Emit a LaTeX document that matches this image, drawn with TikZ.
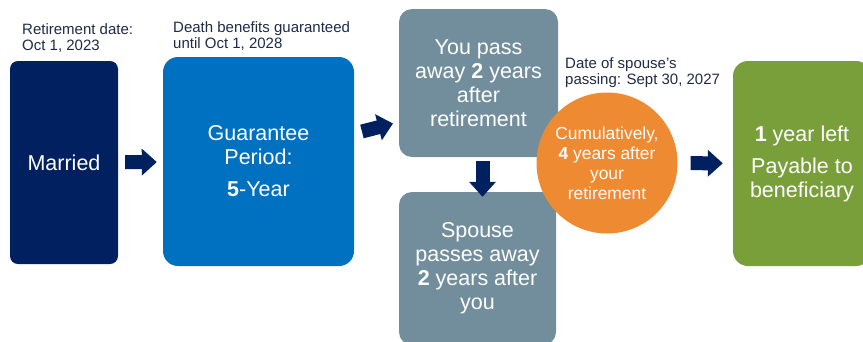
\documentclass[tikz,border=0pt]{standalone}
\usepackage{fontspec}
\setmainfont{Liberation Sans}
\usetikzlibrary{arrows.meta,positioning}

\definecolor{navy}{HTML}{002060}
\definecolor{guarblue}{HTML}{0070C0}
\definecolor{slate}{HTML}{728E9C}
\definecolor{tangerine}{HTML}{EE8A32}
\definecolor{olive}{HTML}{799F3A}
\definecolor{notetext}{HTML}{1F2A44}

\tikzset{
  box/.style={rounded corners=13pt, text=white, align=center, inner sep=0pt,
    font=\fontsize{21.5}{24}\selectfont},
  blockarrow/.style={navy, line width=14pt, -{Triangle[width=26pt,length=15pt]}},
  note/.style={anchor=north west, align=left, inner sep=0pt, text=notetext,
    font=\fontsize{15}{16}\selectfont}
}

\begin{document}
\begin{tikzpicture}[x=1pt,y=-1pt]
    \clip (0,0) rectangle (863,341);

    % Draw the boxes
    \node[box, fill=navy, rounded corners=8pt, minimum width=108pt, minimum height=203pt]
        (married) at (64,162.5) {Married};
    \node[box, fill=guarblue, rounded corners=15pt, minimum width=191pt, minimum height=209pt]
        (guar) at (258.5,161.5) {Guarantee\\Period:\\[8pt]\textbf{5}-Year};
    \node[box, fill=slate, minimum width=159pt, minimum height=148pt]
        (pass) at (478.5,83) {You pass\\away \textbf{2} years\\after\\retirement};
    \node[box, fill=slate, minimum width=157pt, minimum height=153pt]
        (spouse) at (477.5,268.5) {Spouse\\passes away\\\textbf{2} years after\\you};
    \node[box, fill=olive, rounded corners=15pt, minimum width=138pt, minimum height=205pt]
        (left) at (802,163.5) {\textbf{1} year left\\[8pt]Payable to\\beneficiary};

    % Draw the circle
    \node[circle, fill=tangerine, text=white, align=center, inner sep=0pt, minimum size=141pt,
        font=\fontsize{17.4}{20}\selectfont]
        (cum) at (607,163) {Cumulatively,\\\textbf{4} years after\\your\\retirement};

    % Draw the arrows
    \draw[blockarrow, shorten <=7pt, shorten >=6pt] (married) -- (guar);
    \draw[blockarrow, shorten <=8pt, shorten >=6pt] ([yshift=28pt]guar.east) -- ([yshift=-39pt]pass.west);
    \draw[blockarrow, shorten <=4pt, shorten >=-5pt] ([xshift=4pt]pass.south) -- ([xshift=4pt]pass.south |- spouse.north);
    \draw[blockarrow, shorten <=13pt, shorten >=10pt] (cum) -- (left);

    % Label the dates
    \node[note] (retdate) at (22,23) {Retirement date:\\Oct 1, 2023};
    \node[note] (deathdate) at (173,21) {Death benefits guaranteed\\until Oct 1, 2028};
    \node[note] (spousedate) at (565,57) {Date of spouse’s\\passing: Sept 30, 2027};
\end{tikzpicture}
\end{document}
